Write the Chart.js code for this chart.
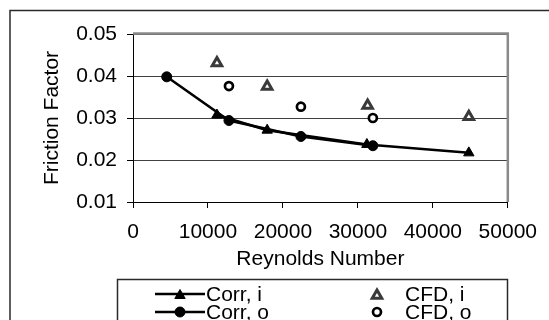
<!DOCTYPE html>
<html>
<head>
<meta charset="utf-8">
<script src="https://cdn.jsdelivr.net/npm/chart.js@4/dist/chart.umd.min.js"></script>
<style>
html,body{margin:0;padding:0;background:#fff;}
canvas{display:block;}
</style>
</head>
<body>
<canvas id="c" width="549" height="320"></canvas>
<script>
const xTicks = [0, 10000, 20000, 30000, 40000, 50000];
const yTicks = [0.01, 0.02, 0.03, 0.04, 0.05];
const yTickLabels = ['0.01', '0.02', '0.03', '0.04', '0.05'];

const corrI_Re = [11200, 17900, 31200, 44800];
const corrI_f  = [0.0307, 0.0271, 0.0237, 0.0217];
const corrO_Re = [4500, 12800, 22400, 32000];
const corrO_f  = [0.0398, 0.0294, 0.0256, 0.0234];
const cfdI_Re  = [11200, 17900, 31300, 44800];
const cfdI_f   = [0.0431, 0.0375, 0.0330, 0.0303];
const cfdO_Re  = [12800, 22400, 32000];
const cfdO_f   = [0.0376, 0.0327, 0.0300];

const seriesNames = ['Corr, i', 'Corr, o', 'CFD, i', 'CFD, o'];

const FONT = "'Liberation Sans', Arial, sans-serif";
const pts = (xs, ys) => xs.map((x, i) => ({x: x, y: ys[i]}));

const frame = {
  id: 'frame',
  afterDraw(chart) {
    const ctx = chart.ctx, a = chart.chartArea;
    ctx.save();
    ctx.strokeStyle = '#2a2a2a';
    ctx.lineWidth = 1.5;
    ctx.strokeRect(10, 10.5, 700, 500);
    ctx.strokeStyle = '#8a8a8a';
    ctx.lineWidth = 2.5;
    ctx.beginPath();
    ctx.moveTo(a.left, a.top - 0.5);
    ctx.lineTo(a.right, a.top - 0.5);
    ctx.lineTo(a.right, a.bottom);
    ctx.stroke();
    ctx.strokeStyle = '#2a2a2a';
    ctx.lineWidth = 1.5;
    ctx.strokeRect(117.5, 279.5, 390, 80);
    const ds = chart.data.datasets;
    const rows = [
      {d: ds[0], lx: 180, y: 294, line: true},
      {d: ds[1], lx: 180, y: 312, line: true},
      {d: ds[2], lx: 377, y: 294, line: false},
      {d: ds[3], lx: 377, y: 312, line: false}
    ];
    ctx.font = '21px ' + FONT;
    ctx.textBaseline = 'middle';
    ctx.textAlign = 'left';
    rows.forEach(r => {
      if (r.line) {
        ctx.strokeStyle = '#000';
        ctx.lineWidth = 2.5;
        ctx.beginPath();
        ctx.moveTo(155, r.y);
        ctx.lineTo(205, r.y);
        ctx.stroke();
      }
      const rad = r.d.pointRadius;
      ctx.fillStyle = r.d.pointBackgroundColor;
      ctx.strokeStyle = r.d.pointBorderColor;
      ctx.lineWidth = r.d.pointBorderWidth;
      ctx.beginPath();
      if (r.d.pointStyle === 'triangle') {
        const cy = r.y + rad / 4;
        ctx.moveTo(r.lx, cy - rad);
        ctx.lineTo(r.lx + rad * Math.sin(2 * Math.PI / 3), cy + rad / 2);
        ctx.lineTo(r.lx - rad * Math.sin(2 * Math.PI / 3), cy + rad / 2);
        ctx.closePath();
      } else {
        ctx.arc(r.lx, r.y, rad, 0, Math.PI * 2);
      }
      ctx.fill();
      ctx.stroke();
      ctx.fillStyle = '#000';
      ctx.fillText(r.d.label, r.line ? 206 : 405, r.y + 1);
    });
    ctx.restore();
  }
};

new Chart(document.getElementById('c'), {
  type: 'scatter',
  data: {
    datasets: [
      {label: seriesNames[0], data: pts(corrI_Re, corrI_f), showLine: true, borderColor: '#000', borderWidth: 2.5,
       pointStyle: 'triangle', pointRadius: 6, pointBackgroundColor: '#000', pointBorderColor: '#000', pointBorderWidth: 1},
      {label: seriesNames[1], data: pts(corrO_Re, corrO_f), showLine: true, borderColor: '#000', borderWidth: 2.5,
       pointStyle: 'circle', pointRadius: 5, pointBackgroundColor: '#000', pointBorderColor: '#000', pointBorderWidth: 1},
      {label: seriesNames[2], data: pts(cfdI_Re, cfdI_f), showLine: false,
       pointStyle: 'triangle', pointRadius: 5.5, pointBackgroundColor: '#fff', pointBorderColor: '#3a3a3a', pointBorderWidth: 3},
      {label: seriesNames[3], data: pts(cfdO_Re, cfdO_f), showLine: false,
       pointStyle: 'circle', pointRadius: 4, pointBackgroundColor: '#fff', pointBorderColor: '#000', pointBorderWidth: 2.7}
    ]
  },
  options: {
    responsive: false,
    animation: false,
    devicePixelRatio: 1,
    layout: {padding: {left: 0, right: 35, top: 34, bottom: 48}},
    plugins: {legend: {display: false}, tooltip: {enabled: false}},
    scales: {
      x: {
        type: 'linear', min: 0, max: 50000,
        afterFit: s => { s.height = 70; },
        afterBuildTicks: s => { s.ticks = xTicks.map(v => ({value: v})); },
        ticks: {font: {family: FONT, size: 21}, color: '#000', padding: 12, maxRotation: 0, autoSkip: false,
                callback: v => String(v)},
        grid: {drawOnChartArea: false, drawTicks: true, tickLength: 6, tickColor: '#000', tickWidth: 1},
        border: {color: '#000', width: 1},
        title: {display: true, text: 'Reynolds Number', color: '#000', font: {family: FONT, size: 21}, padding: 0}
      },
      y: {
        min: 0.01, max: 0.05,
        afterFit: s => { s.width = 133; },
        afterBuildTicks: s => { s.ticks = yTicks.map(v => ({value: v})); },
        ticks: {font: {family: FONT, size: 21}, color: '#000', padding: 10, autoSkip: false,
                callback: (v) => { const i = yTicks.findIndex(t => Math.abs(t - v) < 1e-9); return i >= 0 ? yTickLabels[i] : ''; }},
        grid: {color: '#404040', lineWidth: 1, tickLength: 6, tickColor: '#000'},
        border: {color: '#000', width: 1},
        title: {display: true, text: 'Friction Factor', color: '#000', font: {family: FONT, size: 21}, padding: {top: 40, bottom: 0}}
      }
    }
  },
  plugins: [frame]
});
</script>
</body>
</html>
